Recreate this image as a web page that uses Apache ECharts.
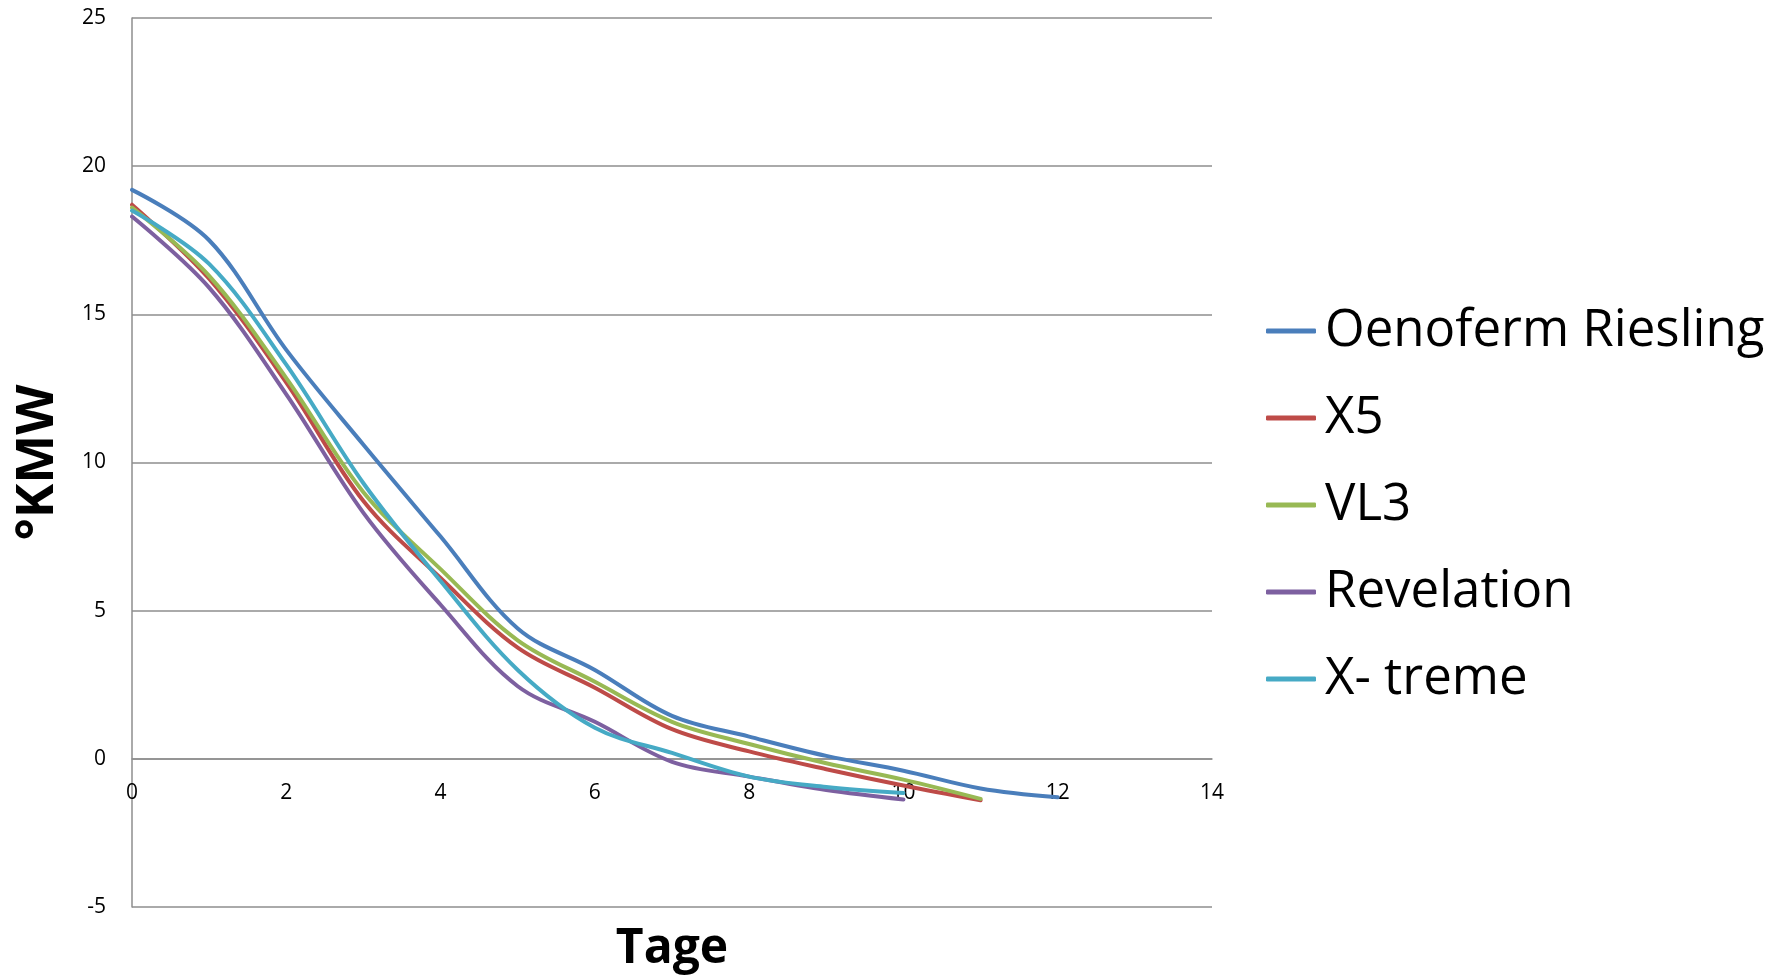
<!DOCTYPE html>
<html>
<head>
<meta charset="utf-8">
<script src="https://cdn.jsdelivr.net/npm/echarts@6/dist/echarts.min.js"></script>
<style>
html,body{margin:0;padding:0;background:#fff;}
#chart{width:1779px;height:977px;}
</style>
</head>
<body>
<div id="chart"></div>
<script>
var seriesNames = ['Oenoferm Riesling', 'X5', 'VL3', 'Revelation', 'X- treme'];
var days = [0, 1, 2, 3, 4, 5, 6, 7, 8, 9, 10, 11, 12];
var oenoferm = [19.2, 17.5, 13.8, 10.6, 7.5, 4.4, 3.0, 1.45, 0.75, 0.1, -0.4, -1.0, -1.3];
var x5 = [18.7, 16.2, 12.7, 8.7, 6.1, 3.75, 2.4, 1.0, 0.25, -0.35, -0.9, -1.4];
var vl3 = [18.6, 16.3, 12.85, 9.0, 6.4, 4.0, 2.6, 1.25, 0.5, -0.15, -0.7, -1.35];
var revelation = [18.3, 15.9, 12.3, 8.3, 5.2, 2.45, 1.25, -0.1, -0.6, -1.05, -1.37];
var xtreme = [18.5, 16.7, 13.3, 9.3, 6.0, 3.0, 1.05, 0.2, -0.6, -0.95, -1.15];
var yTicks = [-5, 0, 5, 10, 15, 20, 25];
var xTicks = [0, 2, 4, 6, 8, 10, 12, 14];

var allValues = [oenoferm, x5, vl3, revelation, xtreme];
var colors = ['#4A7EBB', '#BE4B48', '#98B954', '#7D60A0', '#46AAC5'];

function pairs(vals) {
  return vals.map(function (v, i) { return [days[i], v]; });
}

var gridTop = 18, gridBottom = 70, H = 977;
var yMin = yTicks[0], yMax = yTicks[yTicks.length - 1];
// distance from grid bottom to the value-0 line (x axis crosses at 0)
var zeroOffset = (H - gridTop - gridBottom) * (0 - yMin) / (yMax - yMin);

var chart = echarts.init(document.getElementById('chart'));
var font = '"Open Sans", sans-serif';
chart.setOption({
  animation: false,
  color: colors,
  grid: { left: 132, right: 567, top: gridTop, bottom: gridBottom, containLabel: false, outerBoundsMode: 'none' },
  legend: {
    orient: 'vertical',
    left: 1266,
    top: 301,
    padding: 0,
    icon: 'roundRect',
    itemWidth: 50,
    itemHeight: 5,
    itemGap: 27,
    data: seriesNames,
    textStyle: { fontFamily: font, fontSize: 51, color: '#000', lineHeight: 60, padding: [0, 0, 0, 4] }
  },
  xAxis: {
    type: 'value',
    min: xTicks[0],
    max: xTicks[xTicks.length - 1],
    interval: 2,
    offset: -zeroOffset,
    name: 'Tage',
    nameLocation: 'middle',
    nameGap: 166,
    nameTextStyle: { fontFamily: font, fontSize: 48, fontWeight: 'bold', color: '#000' },
    axisLine: { show: true, onZero: false, lineStyle: { color: '#8e8e8e', width: 1.5 } },
    axisTick: { show: false },
    splitLine: { show: false },
    axisLabel: { fontFamily: font, fontSize: 21, color: '#000', margin: 24 }
  },
  yAxis: {
    type: 'value',
    min: yMin,
    max: yMax,
    interval: 5,
    name: '°KMW',
    nameLocation: 'middle',
    nameRotate: 90,
    nameGap: 68,
    nameTextStyle: { fontFamily: font, fontSize: 52, fontWeight: 'bold', color: '#000' },
    axisLine: { show: true, lineStyle: { color: '#8e8e8e', width: 1.5 } },
    axisTick: { show: false },
    splitLine: { show: true, lineStyle: { color: '#8e8e8e', width: 1.5 } },
    axisLabel: { fontFamily: font, fontSize: 21, color: '#000', margin: 26 }
  },
  series: seriesNames.map(function (n, i) {
    return {
      name: n,
      type: 'line',
      data: pairs(allValues[i]),
      smooth: 0.35,
      symbol: 'none',
      showSymbol: false,
      lineStyle: { width: 4, color: colors[i], cap: 'round' },
      itemStyle: { color: colors[i] }
    };
  })
});
</script>
</body>
</html>
